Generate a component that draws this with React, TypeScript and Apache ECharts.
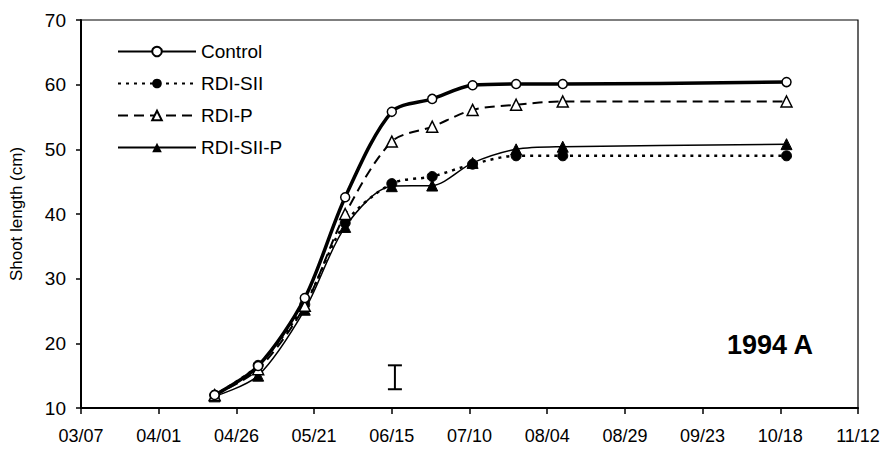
import React, { useEffect, useRef } from "react";
import * as echarts from "echarts";

// days after 03/07
const sampleDays = [43, 57, 72, 85, 100, 113, 126, 140, 155, 227];
const tickLabels = ["03/07", "04/01", "04/26", "05/21", "06/15", "07/10", "08/04", "08/29", "09/23", "10/18", "11/12"];
const control = [12.0, 16.5, 27.0, 42.6, 55.8, 57.8, 59.9, 60.1, 60.1, 60.4];
const rdiSII = [12.0, 16.6, 26.0, 38.6, 44.7, 45.8, 47.7, 49.0, 49.0, 49.0];
const rdiP = [12.0, 16.0, 25.8, 40.0, 51.2, 53.5, 56.1, 56.9, 57.4, 57.4];
const rdiSIIP = [11.8, 15.0, 25.2, 38.0, 44.3, 44.4, 47.9, 50.0, 50.4, 50.8];
const errorBar = [[101, 12.9, 16.6]];
const FONT = "Liberation Sans, Arial, sans-serif";

function pairs(vals: number[]) {
  return vals.map((v, i) => [sampleDays[i], v]);
}

export default function App() {
  const ref = useRef<HTMLDivElement>(null);
  useEffect(() => {
    if (!ref.current) return;
    const chart = echarts.init(ref.current, null, { renderer: "svg" });
    const common = { type: "line", smooth: 0.3, symbolSize: 9 } as any;
    chart.setOption({
      animation: false,
      backgroundColor: "#fff",
      textStyle: { fontFamily: FONT },
      grid: { left: 81, right: 31, top: 20, bottom: 46, show: true, borderColor: "#000", borderWidth: 1.2 },
      legend: {
        orient: "vertical",
        left: 117,
        top: 42,
        padding: 0,
        itemWidth: 78,
        itemHeight: 12,
        itemGap: 13,
        textStyle: { fontFamily: FONT, fontSize: 19, color: "#000" },
        data: ["Control", "RDI-SII", "RDI-P", "RDI-SII-P"],
      },
      xAxis: {
        type: "value",
        min: 0,
        max: 250,
        interval: 25,
        axisLine: { lineStyle: { color: "#000", width: 2 } },
        axisTick: { show: true, length: 6, lineStyle: { color: "#000", width: 1.5 } },
        splitLine: { show: false },
        axisLabel: {
          color: "#000",
          fontSize: 18,
          fontFamily: FONT,
          margin: 19,
          formatter: (v: number) => tickLabels[Math.round(v / 25)] ?? "",
        },
      },
      yAxis: {
        type: "value",
        min: 10,
        max: 70,
        interval: 10,
        name: "Shoot length (cm)",
        nameLocation: "middle",
        nameGap: 56,
        nameTextStyle: { color: "#000", fontSize: 17, fontFamily: FONT },
        axisLine: { show: true, lineStyle: { color: "#000", width: 2 } },
        axisTick: { show: true, length: 5, lineStyle: { color: "#000", width: 1.5 } },
        splitLine: { show: false },
        axisLabel: { color: "#000", fontSize: 19, fontFamily: FONT, margin: 15 },
      },
      series: [
        {
          ...common,
          name: "RDI-SII",
          data: pairs(rdiSII),
          symbol: "circle",
          symbolSize: 10,
          itemStyle: { color: "#000", borderColor: "#000" },
          lineStyle: { color: "#000", width: 2.5, type: [3, 5] },
          z: 2,
        },
        {
          ...common,
          name: "RDI-SII-P",
          data: pairs(rdiSIIP),
          symbol: "triangle",
          symbolSize: 11,
          itemStyle: { color: "#000", borderColor: "#000" },
          lineStyle: { color: "#000", width: 1.5 },
          z: 3,
        },
        {
          ...common,
          name: "RDI-P",
          data: pairs(rdiP),
          symbol: "triangle",
          symbolSize: 11,
          itemStyle: { color: "#fff", borderColor: "#000", borderWidth: 1.5 },
          lineStyle: { color: "#000", width: 2, type: [10, 6] },
          z: 4,
        },
        {
          ...common,
          name: "Control",
          data: pairs(control),
          symbol: "circle",
          symbolSize: 9,
          itemStyle: { color: "#fff", borderColor: "#000", borderWidth: 1.5 },
          lineStyle: { color: "#000", width: 3.5 },
          z: 5,
        },
        {
          type: "custom",
          name: "lsd",
          data: errorBar,
          renderItem: (params: any, api: any) => {
            const x = api.value(0);
            const lo = api.coord([x, api.value(1)]);
            const hi = api.coord([x, api.value(2)]);
            const hw = 7;
            const st = { stroke: "#000", lineWidth: 2 };
            return {
              type: "group",
              children: [
                { type: "line", shape: { x1: lo[0], y1: lo[1], x2: hi[0], y2: hi[1] }, style: st },
                { type: "line", shape: { x1: lo[0] - hw, y1: lo[1], x2: lo[0] + hw, y2: lo[1] }, style: st },
                { type: "line", shape: { x1: hi[0] - hw, y1: hi[1], x2: hi[0] + hw, y2: hi[1] }, style: st },
              ],
            };
          },
          z: 6,
        },
      ],
      graphic: [
        {
          type: "text",
          left: 727,
          top: 331,
          style: { text: "1994 A", font: `bold 27px ${FONT}`, fill: "#000" },
        },
      ],
    });
    return () => chart.dispose();
  }, []);
  return <div ref={ref} style={{ width: 889, height: 454, margin: -8 }} />;
}
